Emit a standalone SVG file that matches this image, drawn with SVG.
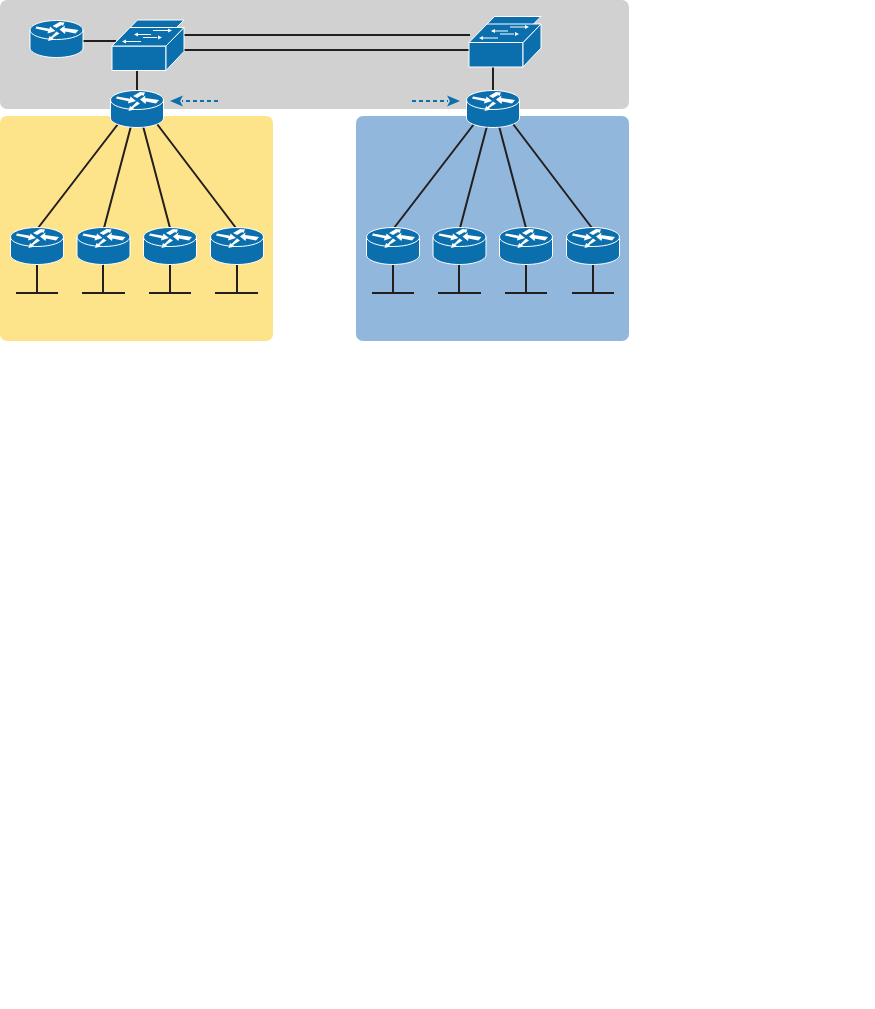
<svg xmlns="http://www.w3.org/2000/svg" xmlns:xlink="http://www.w3.org/1999/xlink" width="875" height="1009" viewBox="0 0 875 1009">
<style>
.ln{stroke:#231f20;stroke-width:2;fill:none}
.dash{stroke:#0b6fae;stroke-width:2;stroke-dasharray:4 3;fill:none}
.body{fill:#0b6fae;stroke:#fff;stroke-width:1}
.w{fill:#fff}
.ws{stroke:#fff;stroke-width:1;fill:none}
</style>
<defs>
<g id="router">
<path class="body" d="M-26.500-9V9C-26.500 14 -15 18.500 0 18.500S26.500 14 26.500 9V-9Z"/>
<ellipse class="body" cx="0" cy="-9" rx="26.500" ry="9.500"/>
<g class="w">
<path d="M-20-12.500L-7-10.200L-6.500-12.500L-1-8L-9-5.500L-8.500-7.800L-21-10.500Z"/>
<path d="M-4-14.500L3-18.500L8-18L6.500-14.500L5-15.500L0-12.500Z" transform="translate(0,1.500)"/>
<path d="M20-9L6-11L6.500-13.500L1-9.500L6.500-5L7-7.500L17-5.500Z" transform="translate(2,0)"/>
<path d="M-9-0.500L-2-5L-3.500-6.500L2.500-8L1-3L-0.500-4L-6 1.500Z" transform="rotate(180,-3,-3)"/>
</g>
</g>
<g id="switch">
<path class="body" d="M0 10.500L25.500-15.500H72L46 10.500Z"/>
<rect class="body" x="0" y="10.500" width="54" height="0" />
<path class="body" d="M0 10.500H54V35H0Z"/>
<path class="body" d="M54 10.500L72-8V16L54 35Z"/>
<path class="body" d="M0 10.500L18-8H72L54 10.500Z"/>
<g class="ws">
<path d="M23-1H39M31 2H45"/>
<path d="M41-5H58M12 6H29"/>
</g>
<g class="w">
<path d="M22-1L26-3V1ZM60-5L56-7V-3ZM10 6L14 4V8ZM50 2L46 0V4Z"/>
</g>
</g>
<marker id="ah" markerWidth="14" markerHeight="12" refX="1" refY="6" orient="auto" markerUnits="userSpaceOnUse"><path d="M0 0L13 6L0 12L3.500 6Z" fill="#0b6fae"/></marker>
</defs>
<rect id="zone-core" x="0" y="0" width="629" height="109" rx="7" fill="#d1d1d1"/>
<rect id="zone-left" x="0" y="116" width="273" height="225" rx="7" fill="#fde38a"/>
<rect id="zone-right" x="356" y="116" width="273" height="225" rx="7" fill="#92b7dc"/>
<g id="connectors">
<path class="ln" d="M83 41H116M184 35H470M180 50H470M137 63V92M493 59V92"/>
<path class="ln" d="M118 124L38 228M131 126L104 228M143 126L170 228M157 124L236 228"/>
<path class="ln" d="M474 124L394 228M487 126L460 228M499 126L526 228M513 124L592 228"/>
<path class="ln" d="M37 263V293M16 293H58M103 263V293M82 293H125M170 263V293M149 293H191M237 263V293M215 293H258"/>
<path class="ln" d="M393 263V293M372 293H414M459 263V293M438 293H481M526 263V293M505 293H547M593 263V293M572 293H614"/>
<path class="dash" d="M218 101H182" />
<path d="M170 101L183 95.500L180 101L183 106.500Z" fill="#0b6fae"/>
<path class="dash" d="M412 101H448" />
<path d="M460 101L447 95.500L450 101L447 106.500Z" fill="#0b6fae"/>
</g>
<g id="router-top"><use href="#router" x="56.500" y="39"/></g>
<g id="switch-left"><use href="#switch" x="112" y="35.500"/></g>
<g id="switch-right"><use href="#switch" x="469" y="32"/></g>
<g id="router-left"><use href="#router" x="137" y="109"/></g>
<g id="router-right"><use href="#router" x="493" y="109"/></g>
<g id="router-l1"><use href="#router" x="37" y="246"/></g>
<g id="router-l2"><use href="#router" x="103.500" y="246"/></g>
<g id="router-l3"><use href="#router" x="170" y="246"/></g>
<g id="router-l4"><use href="#router" x="237" y="246"/></g>
<g id="router-r1"><use href="#router" x="393" y="246"/></g>
<g id="router-r2"><use href="#router" x="459.500" y="246"/></g>
<g id="router-r3"><use href="#router" x="526" y="246"/></g>
<g id="router-r4"><use href="#router" x="593" y="246"/></g>
</svg>
